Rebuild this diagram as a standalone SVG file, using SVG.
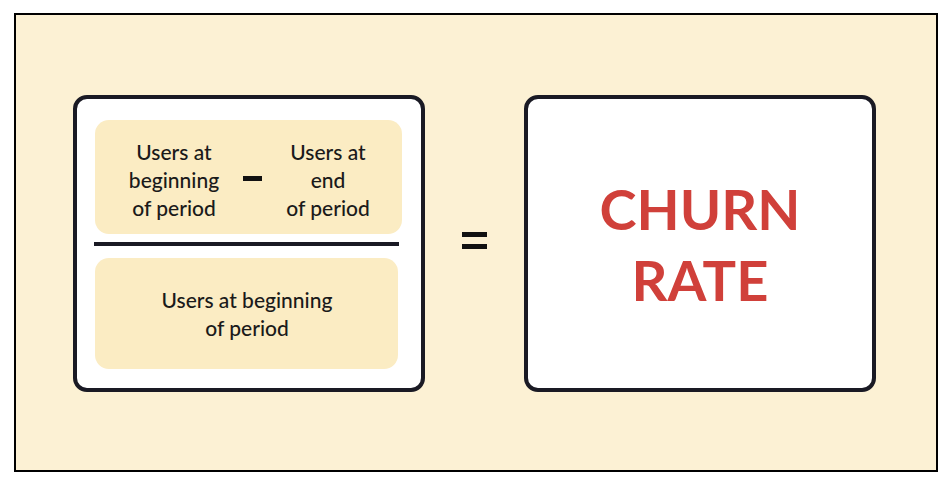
<svg xmlns="http://www.w3.org/2000/svg" width="952" height="488" viewBox="0 0 952 488">
<style>
.card{fill:#fff;stroke:#1a1a24;stroke-width:4}
.pane{fill:#fbecc3}
.t{font-family:"Lato","Liberation Sans",sans-serif;font-size:21px;fill:#1a1a1a;text-anchor:middle;font-weight:500}
.big{font-family:"Lato","Liberation Sans",sans-serif;font-size:56px;font-weight:bold;fill:#d0403a;text-anchor:middle}
</style>
<rect x="0" y="0" width="952" height="488" fill="#fff"/>
<rect x="15" y="14" width="922" height="457" fill="#fcf1d4" stroke="#000" stroke-width="2"/>
<g id="formula">
<rect class="card" x="75" y="97" width="348" height="293" rx="12"/>
<rect class="pane" x="95" y="120" width="307" height="114" rx="14"/>
<rect class="pane" x="95" y="258" width="303" height="111" rx="14"/>
<text class="t" x="174" y="160">Users at</text>
<text class="t" x="174" y="188">beginning</text>
<text class="t" x="174" y="216">of period</text>
<rect x="243" y="176" width="19" height="5" fill="#111"/>
<text class="t" x="328" y="160">Users at</text>
<text class="t" x="328" y="188">end</text>
<text class="t" x="328" y="216">of period</text>
<rect x="94" y="242" width="305" height="4" fill="#1a1a24"/>
<text class="t" x="247" y="308">Users at beginning</text>
<text class="t" x="247" y="336">of period</text>
</g>
<g id="equals">
<rect x="462" y="232" width="25" height="5" fill="#111"/>
<rect x="462" y="244" width="25" height="5" fill="#111"/>
</g>
<g id="result">
<rect class="card" x="526" y="97" width="348" height="293" rx="12"/>
<text class="big" x="700" y="230">CHURN</text>
<text class="big" x="700" y="301">RATE</text>
</g>
<g id="connectors"/>
</svg>
